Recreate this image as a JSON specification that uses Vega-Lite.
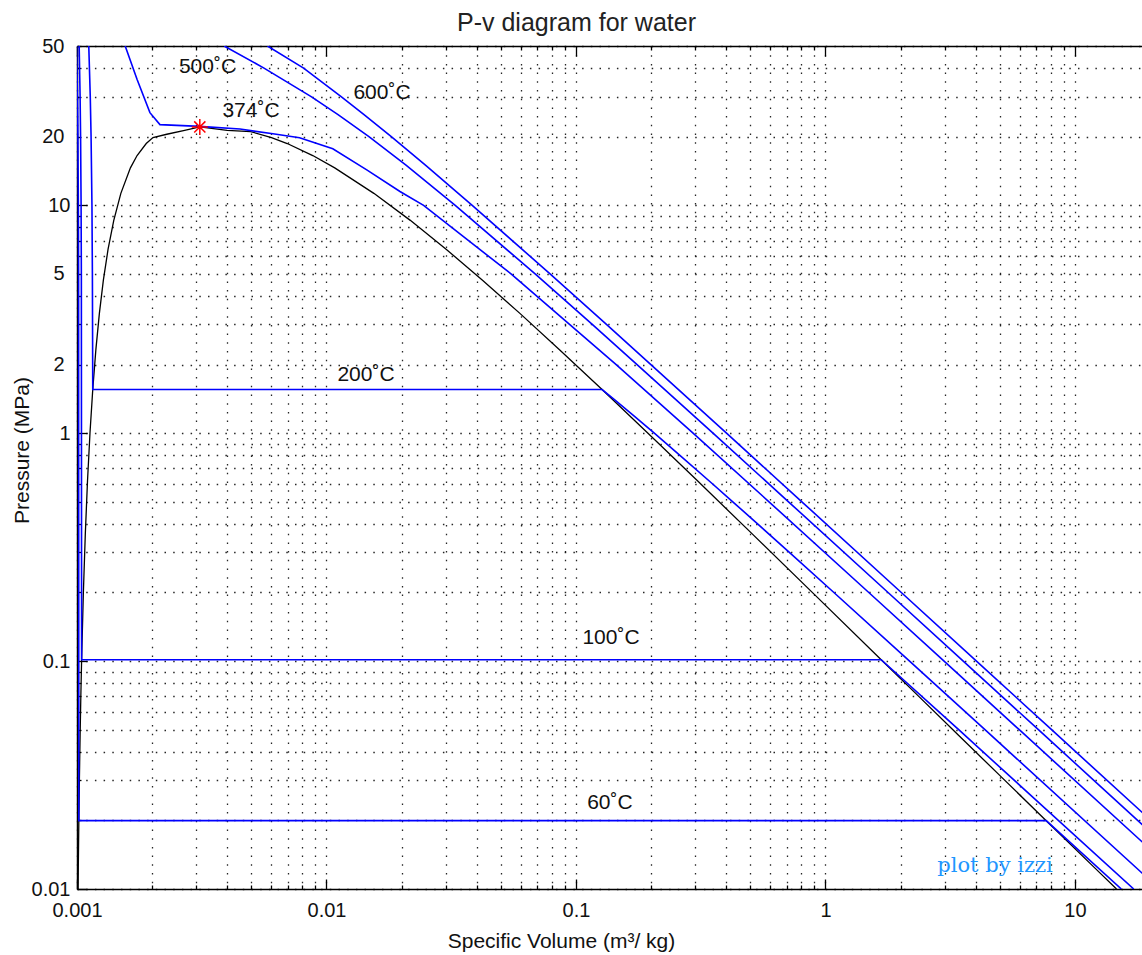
{
  "$schema": "https://vega.github.io/schema/vega-lite/v6.json",
  "autosize": {"type": "none"},
  "padding": {"left": 77, "top": 46, "right": 0, "bottom": 66},
  "width": 1065,
  "height": 843,
  "background": "white",
  "config": {"view": {"stroke": null}, "font": "Liberation Sans"},
  "title": {"text": "P-v diagram for water", "anchor": "start", "frame": "group", "dx": 380, "dy": 35, "offset": 15, "baseline": "alphabetic", "fontSize": 25, "fontWeight": "normal", "font": "Liberation Sans", "color": "#222"},
  "datasets": {
    "curves": [
      {"s": "sat", "i": 0, "v": 0.0010102, "p": 0.01},
      {"s": "sat", "i": 1, "v": 0.0010121, "p": 0.012352},
      {"s": "sat", "i": 2, "v": 0.0010171, "p": 0.019946},
      {"s": "sat", "i": 3, "v": 0.0010228, "p": 0.031201},
      {"s": "sat", "i": 4, "v": 0.0010292, "p": 0.047414},
      {"s": "sat", "i": 5, "v": 0.001036, "p": 0.070182},
      {"s": "sat", "i": 6, "v": 0.0010435, "p": 0.10142},
      {"s": "sat", "i": 7, "v": 0.0010603, "p": 0.19867},
      {"s": "sat", "i": 8, "v": 0.0010797, "p": 0.3615},
      {"s": "sat", "i": 9, "v": 0.0011019, "p": 0.6182},
      {"s": "sat", "i": 10, "v": 0.0011273, "p": 1.0028},
      {"s": "sat", "i": 11, "v": 0.0011565, "p": 1.5549},
      {"s": "sat", "i": 12, "v": 0.00119, "p": 2.3196},
      {"s": "sat", "i": 13, "v": 0.0012291, "p": 3.3469},
      {"s": "sat", "i": 14, "v": 0.0012755, "p": 4.6923},
      {"s": "sat", "i": 15, "v": 0.0013321, "p": 6.4166},
      {"s": "sat", "i": 16, "v": 0.0014041, "p": 8.5879},
      {"s": "sat", "i": 17, "v": 0.0014988, "p": 11.284},
      {"s": "sat", "i": 18, "v": 0.0016373, "p": 14.601},
      {"s": "sat", "i": 19, "v": 0.0017411, "p": 16.529},
      {"s": "sat", "i": 20, "v": 0.0018945, "p": 18.666},
      {"s": "sat", "i": 21, "v": 0.002016, "p": 19.822},
      {"s": "sat", "i": 22, "v": 0.00229, "p": 20.5},
      {"s": "sat", "i": 23, "v": 0.0027, "p": 21.3},
      {"s": "sat", "i": 24, "v": 0.003106, "p": 22.064},
      {"s": "sat", "i": 25, "v": 0.004, "p": 21.3},
      {"s": "sat", "i": 26, "v": 0.00497, "p": 21.044},
      {"s": "sat", "i": 27, "v": 0.00602, "p": 19.822},
      {"s": "sat", "i": 28, "v": 0.00696, "p": 18.666},
      {"s": "sat", "i": 29, "v": 0.00881, "p": 16.529},
      {"s": "sat", "i": 30, "v": 0.01079, "p": 14.601},
      {"s": "sat", "i": 31, "v": 0.01548, "p": 11.284},
      {"s": "sat", "i": 32, "v": 0.02167, "p": 8.5879},
      {"s": "sat", "i": 33, "v": 0.03016, "p": 6.4166},
      {"s": "sat", "i": 34, "v": 0.04219, "p": 4.6923},
      {"s": "sat", "i": 35, "v": 0.05974, "p": 3.3469},
      {"s": "sat", "i": 36, "v": 0.08609, "p": 2.3196},
      {"s": "sat", "i": 37, "v": 0.12721, "p": 1.5549},
      {"s": "sat", "i": 38, "v": 0.19384, "p": 1.0028},
      {"s": "sat", "i": 39, "v": 0.3068, "p": 0.6182},
      {"s": "sat", "i": 40, "v": 0.5085, "p": 0.3615},
      {"s": "sat", "i": 41, "v": 0.89133, "p": 0.19867},
      {"s": "sat", "i": 42, "v": 1.6718, "p": 0.10142},
      {"s": "sat", "i": 43, "v": 2.3591, "p": 0.070182},
      {"s": "sat", "i": 44, "v": 3.4052, "p": 0.047414},
      {"s": "sat", "i": 45, "v": 5.0395, "p": 0.031201},
      {"s": "sat", "i": 46, "v": 7.6672, "p": 0.019946},
      {"s": "sat", "i": 47, "v": 12.026, "p": 0.012352},
      {"s": "sat", "i": 48, "v": 14.67, "p": 0.01},

      {"s": "t60", "i": 0, "v": 0.0009962, "p": 50},
      {"s": "t60", "i": 1, "v": 0.0010042, "p": 30},
      {"s": "t60", "i": 2, "v": 0.0010084, "p": 20},
      {"s": "t60", "i": 3, "v": 0.0010127, "p": 10},
      {"s": "t60", "i": 4, "v": 0.0010149, "p": 5},
      {"s": "t60", "i": 5, "v": 0.0010171, "p": 0.019946},
      {"s": "t60", "i": 6, "v": 7.6672, "p": 0.019946},
      {"s": "t60", "i": 7, "v": 15.34, "p": 0.01},

      {"s": "t100", "i": 0, "v": 0.0010201, "p": 50},
      {"s": "t100", "i": 1, "v": 0.001029, "p": 30},
      {"s": "t100", "i": 2, "v": 0.0010337, "p": 20},
      {"s": "t100", "i": 3, "v": 0.0010385, "p": 10},
      {"s": "t100", "i": 4, "v": 0.001041, "p": 5},
      {"s": "t100", "i": 5, "v": 0.0010435, "p": 0.10142},
      {"s": "t100", "i": 6, "v": 1.6718, "p": 0.10142},
      {"s": "t100", "i": 7, "v": 3.4187, "p": 0.05},
      {"s": "t100", "i": 8, "v": 17.196, "p": 0.01},

      {"s": "t200", "i": 0, "v": 0.0011148, "p": 50},
      {"s": "t200", "i": 1, "v": 0.0011302, "p": 30},
      {"s": "t200", "i": 2, "v": 0.0011387, "p": 20},
      {"s": "t200", "i": 3, "v": 0.001148, "p": 10},
      {"s": "t200", "i": 4, "v": 0.0011526, "p": 5},
      {"s": "t200", "i": 5, "v": 0.0011565, "p": 1.5549},
      {"s": "t200", "i": 6, "v": 0.12721, "p": 1.5549},
      {"s": "t200", "i": 7, "v": 0.14302, "p": 1.4},
      {"s": "t200", "i": 8, "v": 0.1693, "p": 1.2},
      {"s": "t200", "i": 9, "v": 0.206, "p": 1.0},
      {"s": "t200", "i": 10, "v": 0.26088, "p": 0.8},
      {"s": "t200", "i": 11, "v": 0.35212, "p": 0.6},
      {"s": "t200", "i": 12, "v": 0.42503, "p": 0.5},
      {"s": "t200", "i": 13, "v": 0.53434, "p": 0.4},
      {"s": "t200", "i": 14, "v": 0.71643, "p": 0.3},
      {"s": "t200", "i": 15, "v": 1.08049, "p": 0.2},
      {"s": "t200", "i": 16, "v": 2.17226, "p": 0.1},
      {"s": "t200", "i": 17, "v": 4.3562, "p": 0.05},
      {"s": "t200", "i": 18, "v": 21.826, "p": 0.01},

      {"s": "t374", "i": 0, "v": 0.00156, "p": 50},
      {"s": "t374", "i": 1, "v": 0.00174, "p": 35.7},
      {"s": "t374", "i": 2, "v": 0.00196, "p": 25.5},
      {"s": "t374", "i": 3, "v": 0.00215, "p": 22.6},
      {"s": "t374", "i": 4, "v": 0.0031, "p": 22.2},
      {"s": "t374", "i": 5, "v": 0.0045, "p": 21.6},
      {"s": "t374", "i": 6, "v": 0.0061, "p": 20.6},
      {"s": "t374", "i": 7, "v": 0.0078, "p": 19.8},
      {"s": "t374", "i": 8, "v": 0.0106, "p": 17.7},
      {"s": "t374", "i": 9, "v": 0.0145, "p": 14.3},
      {"s": "t374", "i": 10, "v": 0.0197, "p": 11.5},
      {"s": "t374", "i": 11, "v": 0.0245, "p": 10},
      {"s": "t374", "i": 12, "v": 0.0549, "p": 5},
      {"s": "t374", "i": 13, "v": 0.1449, "p": 2},
      {"s": "t374", "i": 14, "v": 0.2946, "p": 1},
      {"s": "t374", "i": 15, "v": 0.5937, "p": 0.5},
      {"s": "t374", "i": 16, "v": 1.4911, "p": 0.2},
      {"s": "t374", "i": 17, "v": 2.9876, "p": 0.1},
      {"s": "t374", "i": 18, "v": 5.979, "p": 0.05},
      {"s": "t374", "i": 19, "v": 29.91, "p": 0.01},

      {"s": "t500", "i": 0, "v": 0.0038894, "p": 50},
      {"s": "t500", "i": 1, "v": 0.0056178, "p": 40},
      {"s": "t500", "i": 2, "v": 0.0086808, "p": 30},
      {"s": "t500", "i": 3, "v": 0.011123, "p": 25},
      {"s": "t500", "i": 4, "v": 0.014793, "p": 20},
      {"s": "t500", "i": 5, "v": 0.020828, "p": 15},
      {"s": "t500", "i": 6, "v": 0.032811, "p": 10},
      {"s": "t500", "i": 7, "v": 0.06858, "p": 5},
      {"s": "t500", "i": 8, "v": 0.11619, "p": 3},
      {"s": "t500", "i": 9, "v": 0.17568, "p": 2},
      {"s": "t500", "i": 10, "v": 0.35411, "p": 1},
      {"s": "t500", "i": 11, "v": 0.71095, "p": 0.5},
      {"s": "t500", "i": 12, "v": 1.78142, "p": 0.2},
      {"s": "t500", "i": 13, "v": 3.5656, "p": 0.1},
      {"s": "t500", "i": 14, "v": 7.1339, "p": 0.05},
      {"s": "t500", "i": 15, "v": 35.679, "p": 0.01},

      {"s": "t600", "i": 0, "v": 0.0058, "p": 50},
      {"s": "t600", "i": 1, "v": 0.0080943, "p": 40},
      {"s": "t600", "i": 2, "v": 0.011446, "p": 30},
      {"s": "t600", "i": 3, "v": 0.014137, "p": 25},
      {"s": "t600", "i": 4, "v": 0.018185, "p": 20},
      {"s": "t600", "i": 5, "v": 0.024921, "p": 15},
      {"s": "t600", "i": 6, "v": 0.038378, "p": 10},
      {"s": "t600", "i": 7, "v": 0.0787, "p": 5},
      {"s": "t600", "i": 8, "v": 0.13244, "p": 3},
      {"s": "t600", "i": 9, "v": 0.1996, "p": 2},
      {"s": "t600", "i": 10, "v": 0.40109, "p": 1},
      {"s": "t600", "i": 11, "v": 0.80409, "p": 0.5},
      {"s": "t600", "i": 12, "v": 2.01297, "p": 0.2},
      {"s": "t600", "i": 13, "v": 4.02804, "p": 0.1},
      {"s": "t600", "i": 14, "v": 8.0566, "p": 0.05},
      {"s": "t600", "i": 15, "v": 40.295, "p": 0.01}
    ],
    "labels": [
      {"label": "500˚C", "v": 0.003334, "p": 40.6},
      {"label": "374˚C", "v": 0.004982, "p": 25.8},
      {"label": "600˚C", "v": 0.01669, "p": 31.25},
      {"label": "200˚C", "v": 0.0144, "p": 1.807},
      {"label": "100˚C", "v": 0.1381, "p": 0.126},
      {"label": "60˚C", "v": 0.1368, "p": 0.02388}
    ],
    "crit": [{"v": 0.003106, "p": 22.064}],
    "credit": [{"label": "plot by izzi", "v": 4.78, "p": 0.01263}]
  },
  "encoding": {
    "y": {"field": "p", "type": "quantitative",
      "scale": {"type": "log", "domain": [0.01, 50], "nice": false},
      "axis": {
        "values": [0.01,0.02,0.03,0.04,0.05,0.06,0.07,0.08,0.09,0.1,0.2,0.3,0.4,0.5,0.6,0.7,0.8,0.9,1,2,3,4,5,6,7,8,9,10,20,30,40,50],
        "format": "~g",
        "labelExpr": "indexof([0.01,0.1,1,2,5,10,20,50], datum.value) >= 0 ? datum.label : ''",
        "labelFont": "Liberation Sans", "labelFontSize": 20, "labelColor": "#111",
        "labelPadding": 17, "labelOverlap": false, "labelFlush": false, "labelBound": false,
        "tickSize": {"condition": {"test": "indexof([0.01,0.1,1,10], datum.value) >= 0", "value": -10}, "value": -4},
        "tickColor": "#000", "tickWidth": 1.3,
        "domainColor": "#000", "domainWidth": 1.5,
        "grid": true, "gridColor": "#000", "gridDash": [1.5, 7.2], "gridWidth": 1.3, "gridOpacity": 0.85,
        "title": "Pressure (MPa)", "titleFont": "Liberation Sans", "titleFontSize": 21, "titleFontWeight": "normal", "titleColor": "#111",
        "titleX": -55, "titleY": 404, "titleBaseline": "middle"
      }
    }
  },
  "resolve": {"axis": {"x": "independent"}},
  "layer": [
    {
      "data": {"name": "curves"},
      "transform": [{"filter": "datum.s == 'sat'"}],
      "mark": {"type": "line", "color": "#000000", "strokeWidth": 1.3, "clip": true},
      "encoding": {
        "x": {"field": "v", "type": "quantitative",
          "scale": {"type": "log", "domain": [0.001, 18.56], "nice": false},
          "axis": {
            "orient": "bottom",
            "values": [0.001,0.002,0.003,0.004,0.005,0.006,0.007,0.008,0.009,0.01,0.02,0.03,0.04,0.05,0.06,0.07,0.08,0.09,0.1,0.2,0.3,0.4,0.5,0.6,0.7,0.8,0.9,1,2,3,4,5,6,7,8,9,10],
            "format": "~g",
            "labelExpr": "indexof([0.001,0.01,0.1,1,10], datum.value) >= 0 ? datum.label : ''",
            "labelFont": "Liberation Sans", "labelFontSize": 20, "labelColor": "#111",
            "labelPadding": 21, "labelOverlap": false, "labelFlush": false, "labelBound": false,
            "tickSize": {"condition": {"test": "indexof([0.001,0.01,0.1,1,10], datum.value) >= 0", "value": -10}, "value": -4},
            "tickColor": "#000", "tickWidth": 1.3,
            "domainColor": "#000", "domainWidth": 1.5,
            "grid": true, "gridColor": "#000", "gridDash": [1.5, 7.2], "gridWidth": 1.3, "gridOpacity": 0.85,
            "title": "Specific Volume (m³/ kg)", "titleFont": "Liberation Sans", "titleFontSize": 21, "titleFontWeight": "normal", "titleColor": "#111",
            "titleX": 484, "titleY": 52, "titleBaseline": "middle"
          }
        },
        "order": {"field": "i", "type": "quantitative"}
      }
    },
    {
      "data": {"name": "curves"},
      "transform": [{"filter": "datum.s != 'sat'"}],
      "mark": {"type": "line", "color": "#0000ff", "strokeWidth": 1.6, "clip": true},
      "encoding": {
        "x": {"field": "v", "type": "quantitative", "axis": null},
        "detail": {"field": "s", "type": "nominal"},
        "order": {"field": "i", "type": "quantitative"}
      }
    },
    {
      "data": {"name": "crit"},
      "mark": {"type": "point", "shape": "M-1,0L1,0M0,-1L0,1M-0.7,-0.7L0.7,0.7M-0.7,0.7L0.7,-0.7", "filled": false, "stroke": "#ff0000", "strokeWidth": 1.5, "size": 256, "opacity": 1},
      "encoding": {
        "x": {"field": "v", "type": "quantitative", "axis": null}
      }
    },
    {
      "data": {"name": "labels"},
      "mark": {"type": "text", "font": "Liberation Sans", "fontSize": 21, "color": "#111", "align": "center", "baseline": "middle"},
      "encoding": {
        "x": {"field": "v", "type": "quantitative",
          "axis": {
            "orient": "top",
            "values": [0.001,0.002,0.003,0.004,0.005,0.006,0.007,0.008,0.009,0.01,0.02,0.03,0.04,0.05,0.06,0.07,0.08,0.09,0.1,0.2,0.3,0.4,0.5,0.6,0.7,0.8,0.9,1,2,3,4,5,6,7,8,9,10],
            "labels": false, "grid": false, "title": null,
            "tickSize": {"condition": {"test": "indexof([0.001,0.01,0.1,1,10], datum.value) >= 0", "value": -10}, "value": -4},
            "tickColor": "#000", "tickWidth": 1.3,
            "domainColor": "#000", "domainWidth": 1.5
          }
        },
        "text": {"field": "label"}
      }
    },
    {
      "data": {"name": "credit"},
      "mark": {"type": "text", "font": "DejaVu Serif", "fontSize": 21, "color": "#1e96ff", "align": "center", "baseline": "middle"},
      "encoding": {
        "x": {"field": "v", "type": "quantitative", "axis": null},
        "text": {"field": "label"}
      }
    }
  ]
}
